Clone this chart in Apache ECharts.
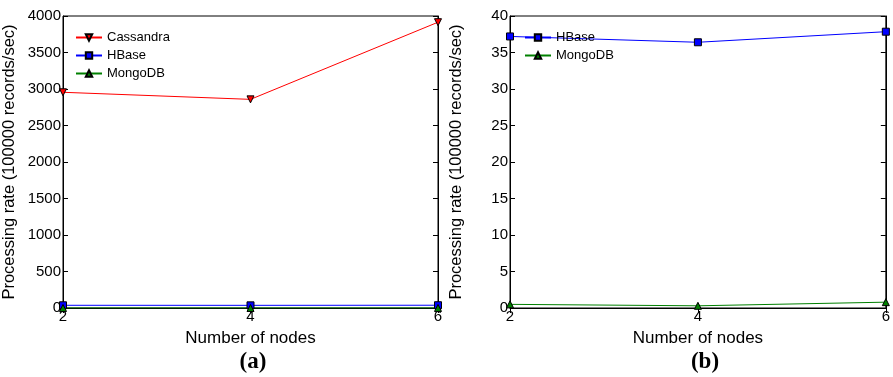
<!DOCTYPE html>
<html>
<head>
<meta charset="utf-8">
<script src="https://cdn.jsdelivr.net/npm/echarts@6/dist/echarts.min.js"></script>
<style>
  html, body { margin: 0; padding: 0; background: #fff; }
  #main { width: 893px; height: 377px; }
</style>
</head>
<body>
<div id="main"></div>
<script>
var nodes = [2, 4, 6];

// panel (a)
var cassandraA = [2955, 2858, 3915];
var hbaseA = [37.2, 36.4, 37.9];
var mongoA = [0.5, 0.3, 0.8];

// panel (b)
var hbaseB = [37.2, 36.4, 37.85];
var mongoB = [0.5, 0.3, 0.8];

var captions = ['(a)', '(b)'];
var font = 'Liberation Sans, Arial, sans-serif';

function pairs(ys) {
    return nodes.map(function (x, i) { return [x, ys[i]]; });
}

function xAx(grid, top) {
    return {
        type: 'value', gridIndex: grid, min: 2, max: 6, interval: 2,
        position: top ? 'top' : 'bottom',
        name: top ? '' : 'Number of nodes',
        nameLocation: 'middle', nameGap: 22,
        nameTextStyle: { color: '#000', fontSize: 17, fontFamily: font },
        axisLine: { show: !top, lineStyle: { color: '#000', width: 1 } },
        axisTick: { inside: true, length: 5, lineStyle: { color: '#000' } },
        axisLabel: { show: !top, color: '#000', fontSize: 15, fontFamily: font, margin: 1 },
        splitLine: { show: false }
    };
}

function yAx(grid, max, interval, right) {
    return {
        type: 'value', gridIndex: grid, min: 0, max: max, interval: interval,
        position: right ? 'right' : 'left',
        name: right ? '' : 'Processing rate (100000 records/sec)',
        nameLocation: 'middle', nameGap: 45,
        nameTextStyle: { color: '#000', fontSize: 16.5, fontFamily: font },
        axisLine: { show: true, onZero: false, lineStyle: { color: '#000', width: 1 } },
        axisTick: { inside: true, length: 5, lineStyle: { color: '#000' } },
        axisLabel: {
            show: !right, color: '#000', fontSize: 15, fontFamily: font, margin: 2,
            formatter: function (v) { return String(v); }
        },
        splitLine: { show: false }
    };
}

function line(name, xi, yi, data, color, symbol, rotate) {
    return {
        name: name, type: 'line', xAxisIndex: xi, yAxisIndex: yi,
        data: pairs(data),
        symbol: symbol, symbolSize: 7, symbolRotate: rotate || 0,
        lineStyle: { color: color, width: 1 },
        itemStyle: { color: color, borderColor: '#000', borderWidth: 1 },
        emphasis: { disabled: true },
        z: 3
    };
}

var myChart = echarts.init(document.getElementById('main'));

var option = {
    animation: false,
    backgroundColor: '#fff',
    title: [{
        text: captions[0], left: 248, top: 346, textAlign: 'center',
        textStyle: { fontFamily: 'Liberation Serif, Times New Roman, serif', fontWeight: 'bold', fontSize: 23, color: '#000' }
    }, {
        text: captions[1], left: 700, top: 346, textAlign: 'center',
        textStyle: { fontFamily: 'Liberation Serif, Times New Roman, serif', fontWeight: 'bold', fontSize: 23, color: '#000' }
    }],
    legend: [{
        orient: 'vertical', left: 70, top: 26, itemGap: 5, itemWidth: 26, itemHeight: 8,
        data: ['Cassandra', 'HBase', 'MongoDB'],
        textStyle: { fontFamily: font, fontSize: 13, color: '#000' }
    }, {
        orient: 'vertical', left: 519, top: 26, itemGap: 5, itemWidth: 26, itemHeight: 8,
        data: ['HBase ', 'MongoDB '],
        textStyle: { fontFamily: font, fontSize: 13, color: '#000' }
    }],
    grid: [
        { left: 61, right: 455, top: 16, bottom: 69, show: true, borderColor: '#000', borderWidth: 1 },
        { left: 510, right: 6, top: 16, bottom: 69, show: true, borderColor: '#000', borderWidth: 1 }
    ],
    xAxis: [xAx(0, false), xAx(0, true), xAx(1, false), xAx(1, true)],
    yAxis: [yAx(0, 4000, 500, false), yAx(0, 4000, 500, true), yAx(1, 40, 5, false), yAx(1, 40, 5, true)],
    series: [
        line('Cassandra', 0, 0, cassandraA, '#ff0000', 'triangle', 180),
        line('HBase', 0, 0, hbaseA, '#0000ff', 'rect'),
        line('MongoDB', 0, 0, mongoA, '#008000', 'triangle'),
        line('HBase ', 2, 2, hbaseB, '#0000ff', 'rect'),
        line('MongoDB ', 2, 2, mongoB, '#008000', 'triangle')
    ]
};

myChart.setOption(option);
</script>
</body>
</html>
